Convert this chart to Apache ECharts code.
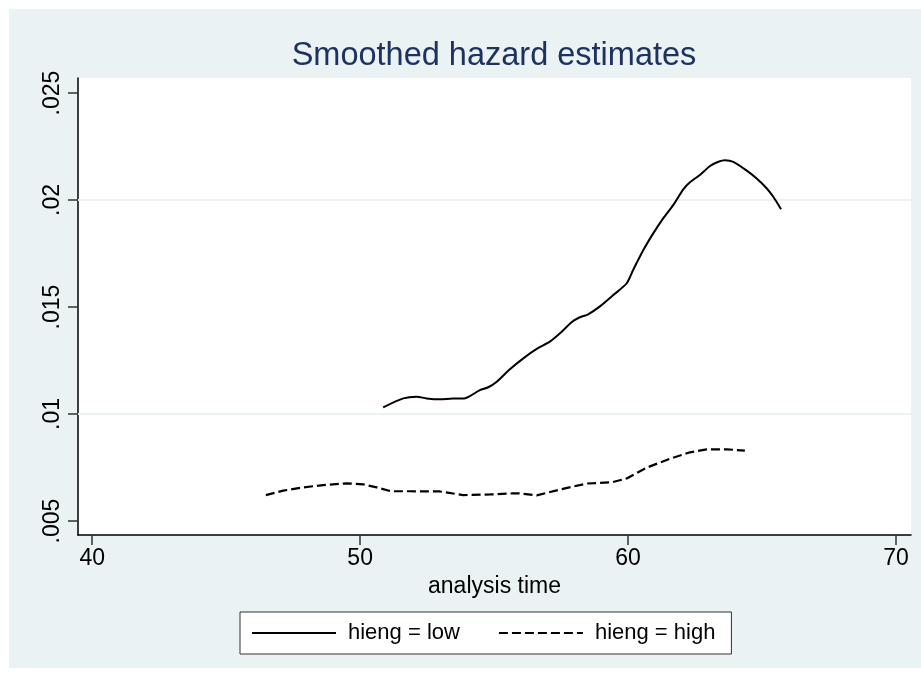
<!DOCTYPE html>
<html><head><meta charset="utf-8">
<script src="https://cdn.jsdelivr.net/npm/echarts@6/dist/echarts.min.js"></script>
<style>html,body{margin:0;padding:0;background:#fff}#c{width:921px;height:677px}</style>
</head><body><div id="c"></div>
<script>
const lowTime = [50.86,51.61,52.11,52.48,52.98,53.48,53.85,54.10,54.47,54.78,55.10,55.59,56.09,56.59,57.08,57.46,57.89,58.20,58.51,58.95,59.45,59.95,60.19,60.57,60.94,61.31,61.69,62.06,62.31,62.68,63.06,63.37,63.62,63.93,64.43,64.80,65.17,65.42,65.71];
const lowHazard = [0.01031,0.01073,0.01081,0.01073,0.01069,0.01072,0.01072,0.01084,0.01112,0.01125,0.01151,0.01209,0.01260,0.01304,0.01338,0.01377,0.01429,0.01452,0.01466,0.01503,0.01556,0.01611,0.01673,0.01766,0.01844,0.01914,0.01977,0.02050,0.02083,0.02117,0.02159,0.02179,0.02186,0.02178,0.02137,0.02100,0.02055,0.02015,0.01957];
const highTime = [46.48,47.13,47.88,48.62,49.50,50.12,50.62,51.15,51.86,52.98,53.85,54.85,55.70,55.97,56.59,57.46,58.45,59.40,59.95,60.69,61.56,62.31,62.93,63.68,64.36];
const highHazard = [0.00621,0.00642,0.00657,0.00668,0.00676,0.00671,0.00657,0.00639,0.00639,0.00638,0.00621,0.00624,0.00629,0.00629,0.00620,0.00647,0.00675,0.00681,0.00699,0.00749,0.00791,0.00821,0.00835,0.00835,0.00829];
const xTickValues = [40,50,60,70];
const xTickLabels = ['40','50','60','70'];
const yTickValues = [0.005,0.01,0.015,0.02,0.025];
const yTickLabels = ['.005','.01','.015','.02','.025'];
const yGridValues = [0.005,0.01,0.015,0.02];
const seriesNames = ['hieng = low','hieng = high'];

const FONT = 'Liberation Sans, Arial, sans-serif';
const chart = echarts.init(document.getElementById('c'), null, {renderer:'canvas'});
function zip(a,b){return a.map((v,i)=>[v,b[i]]);}
const option = {
  animation:false,
  backgroundColor:'#fff',
  textStyle:{fontFamily:FONT},
  graphic:[{type:'rect',z:-10,silent:true,shape:{x:9,y:9,width:912,height:659},style:{fill:'#EAF2F3'}}],
  title:{text:'Smoothed hazard estimates',left:489,top:35,textAlign:'center',
    textStyle:{fontFamily:FONT,fontSize:32.5,fontWeight:'normal',color:'#1E3260'}},
  grid:{left:78,top:78,right:10,bottom:142,show:true,backgroundColor:'#fff',borderWidth:0,containLabel:false},
  legend:{left:240,top:612,orient:'horizontal',backgroundColor:'#fff',borderColor:'#333',borderWidth:1,
    padding:[10,16,10,11],itemWidth:84,itemHeight:20,itemGap:38,
    itemStyle:{opacity:0,borderWidth:0},
    textStyle:{fontFamily:FONT,fontSize:22,color:'#000',padding:[0,0,0,7]},
    data:seriesNames},
  xAxis:{type:'value',min:39.47,max:70.56,
    name:'analysis time',nameLocation:'middle',nameGap:40,
    nameTextStyle:{fontFamily:FONT,fontSize:23,color:'#000'},
    axisLine:{show:true,onZero:false,lineStyle:{color:'#000',width:1.5}},
    axisTick:{show:true,length:10,lineStyle:{color:'#333',width:1.5},customValues:xTickValues},
    axisLabel:{show:true,margin:12,fontFamily:FONT,fontSize:23,color:'#000',customValues:xTickValues,
      formatter:v=>{const i=xTickValues.indexOf(v);return i>=0?xTickLabels[i]:'';}},
    splitLine:{show:false}},
  yAxis:{type:'value',min:0.004346,max:0.025701,
    axisLine:{show:true,onZero:false,lineStyle:{color:'#000',width:1.5}},
    axisTick:{show:true,length:10,lineStyle:{color:'#333',width:1.5},customValues:yTickValues},
    axisLabel:{show:true,rotate:90,margin:14,fontFamily:FONT,fontSize:23,color:'#000',customValues:yTickValues,
      formatter:v=>{let i=-1;yTickValues.forEach((t,k)=>{if(Math.abs(t-v)<1e-9)i=k;});return i>=0?yTickLabels[i]:'';}},
    splitLine:{show:false}},
  series:[
    {name:'grid',type:'line',data:[],silent:true,z:1,
      markLine:{silent:true,z:1,symbol:['none','none'],label:{show:false},
        lineStyle:{color:'#EAF2F3',type:'solid',width:2},
        data:yGridValues.map(v=>({yAxis:v}))}},
    {name:seriesNames[0],type:'line',z:3,data:zip(lowTime,lowHazard),symbol:'none',smooth:0.25,
      lineStyle:{color:'#000',width:2,type:'solid'},itemStyle:{color:'#000'}},
    {name:seriesNames[1],type:'line',z:3,data:zip(highTime,highHazard),symbol:'none',smooth:false,
      lineStyle:{color:'#000',width:2.2,type:[9,4]},itemStyle:{color:'#000'}}
  ]
};
chart.setOption(option);
</script></body></html>
